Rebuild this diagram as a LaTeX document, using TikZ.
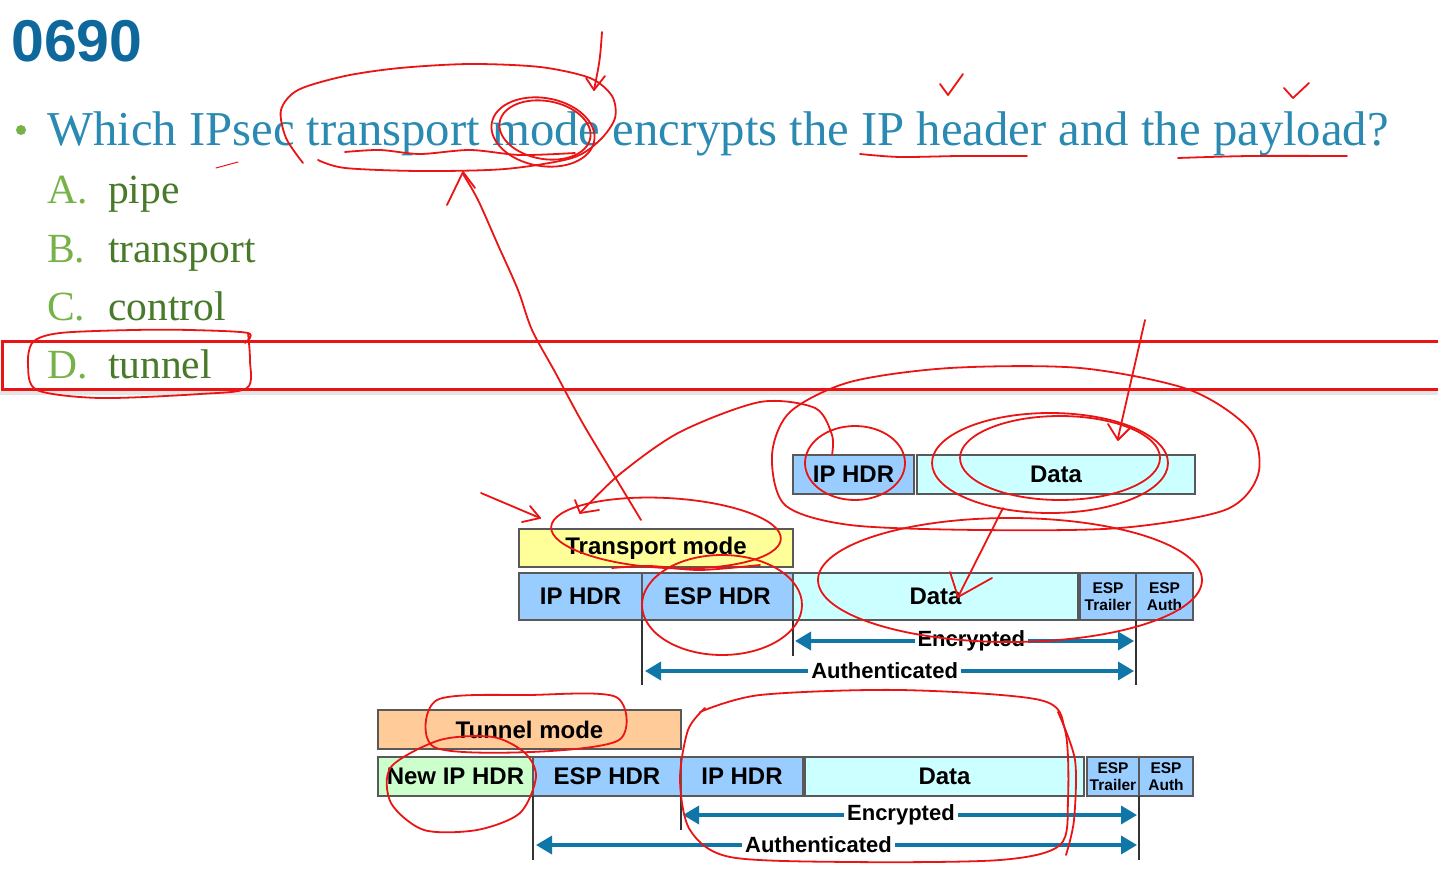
\documentclass[tikz,border=0pt]{standalone}
\usepackage{fontspec}
\setmainfont{Liberation Serif}
\setsansfont{Liberation Sans}
\usetikzlibrary{positioning,arrows.meta}
\definecolor{titleblue}{RGB}{14,104,156}
\definecolor{qblue}{RGB}{42,138,178}
\definecolor{optlight}{RGB}{118,178,72}
\definecolor{optdark}{RGB}{72,122,42}
\definecolor{hdrblue}{RGB}{153,204,255}
\definecolor{datacyan}{RGB}{204,255,255}
\definecolor{modeyellow}{RGB}{255,255,153}
\definecolor{modepeach}{RGB}{255,204,153}
\definecolor{newgreen}{RGB}{204,255,204}
\definecolor{arrowblue}{RGB}{16,118,168}
\definecolor{inkred}{RGB}{235,20,20}

\begin{document}
\begin{tikzpicture}[x=1pt, y=-1pt, node distance=0pt,
  box/.style={draw=black!65, line width=1.4pt, inner sep=0pt, outer sep=0pt, anchor=north west, font=\sffamily\bfseries\fontsize{24}{26}\selectfont},
  small/.style={box, font=\sffamily\bfseries\fontsize{15.5}{17}\selectfont, align=center},
  span/.style={arrowblue, line width=3.5pt, {Triangle[width=18pt,length=16pt]}-{Triangle[width=18pt,length=16pt]}},
  tag/.style={fill=white, text=black, inner sep=3pt, font=\sffamily\bfseries\fontsize{22}{24}\selectfont},
  tick/.style={black!80, line width=1.4pt},
  letter/.style={anchor=base west, inner sep=0pt, text=optlight, font=\fontsize{41.5}{44}\selectfont},
  word/.style={anchor=base west, inner sep=0pt, text=optdark, font=\fontsize{41.5}{44}\selectfont},
  ink/.style={inkred, line width=1.8pt, line cap=round, line join=round}]
\useasboundingbox (0,0) rectangle (1438,875);
\fill[white] (0,0) rectangle (1438,875);

% slide text
\node[anchor=base west, inner sep=0pt, text=titleblue, font=\sffamily\bfseries\fontsize{59}{61}\selectfont] (num) at (11,62) {0690};
\node[circle, fill=optlight, inner sep=0pt, minimum size=10pt] (dot) at (21,130) {};
\node[anchor=base west, inner sep=0pt, text=qblue, font=\fontsize{48.7}{50}\selectfont] (q) at (47,145) {Which IPsec transport mode encrypts the IP header and the payload?};
\foreach \l/\w/\y [count=\i] in {A/pipe/203, B/transport/262, C/control/320, D/tunnel/378} {
  \node[letter] (l\i) at (47,\y) {\l.};
  \node[word] (w\i) at (108,\y) {\w};
}
\draw[black!10, line width=4pt] (0,393) -- (1438,393);
\draw[inkred, line width=3pt] (2,341) rectangle (1450,389);

% original packet
\node[box, fill=hdrblue, minimum width=121pt, minimum height=39pt] (ip0) at (793,455) {IP HDR};
\node[box, fill=datacyan, minimum width=278pt, minimum height=39pt, right=3pt of ip0] (data0) {Data};

% transport mode
\node[box, fill=modeyellow, minimum width=274pt, minimum height=38pt] (tmode) at (519,529) {Transport mode};
\node[box, fill=hdrblue, minimum width=123pt, minimum height=47pt] (ip1) at (519,573) {IP HDR};
\node[box, fill=hdrblue, minimum width=151pt, minimum height=47pt, right=of ip1] (esp1) {ESP HDR};
\node[box, fill=datacyan, minimum width=285pt, minimum height=47pt, right=of esp1] (data1) {Data};
\node[small, fill=hdrblue, minimum width=56pt, minimum height=47pt, right=2pt of data1] (trl1) {ESP\\Trailer};
\node[small, fill=hdrblue, minimum width=57pt, minimum height=47pt, right=of trl1] (auth1) {ESP\\Auth};
\draw[tick] (esp1.south west) -- ++(0,65);
\draw[tick] (data1.south west) -- ++(0,36);
\draw[tick] (auth1.south west) -- ++(0,65);
\draw[span] ([shift={(2pt,-21pt)}]data1.south west) -- node[tag, pos=0.52] {Encrypted} ([shift={(-2pt,-21pt)}]auth1.south west);
\draw[span] ([shift={(3pt,-51pt)}]esp1.south west) -- node[tag, pos=0.49] {Authenticated} ([shift={(-2pt,-51pt)}]auth1.south west);

% tunnel mode
\node[box, fill=modepeach, minimum width=303pt, minimum height=39pt] (umode) at (378,710) {Tunnel mode};
\node[box, fill=newgreen, minimum width=155pt, minimum height=39pt] (new2) at (378,757) {New IP HDR};
\node[box, fill=hdrblue, minimum width=148pt, minimum height=39pt, right=of new2] (esp2) {ESP HDR};
\node[box, fill=hdrblue, minimum width=122pt, minimum height=39pt, right=of esp2] (ip2) {IP HDR};
\node[box, fill=datacyan, minimum width=279pt, minimum height=39pt, right=2pt of ip2] (data2) {Data};
\node[small, fill=hdrblue, minimum width=52pt, minimum height=39pt, right=3pt of data2] (trl2) {ESP\\Trailer};
\node[small, fill=hdrblue, minimum width=54pt, minimum height=39pt, right=of trl2] (auth2) {ESP\\Auth};
\draw[tick] (esp2.south west) -- ++(0,64);
\draw[tick] (ip2.south west) -- ++(0,34);
\draw[tick] (auth2.south west) -- ++(0,64);
\draw[span] ([shift={(2pt,-19pt)}]ip2.south west) -- node[tag, pos=0.48] {Encrypted} ([shift={(-2pt,-19pt)}]auth2.south west);
\draw[span] ([shift={(3pt,-49pt)}]esp2.south west) -- node[tag, pos=0.47] {Authenticated} ([shift={(-2pt,-49pt)}]auth2.south west);

% red pen marks
\draw[ink] plot[smooth] coordinates {(303,163) (286,138) (281,110) (298,90) (345,76) (400,68) (470,64) (540,67) (590,78) (612,96) (615,118) (600,140) (572,158) (505,169) (420,171) (345,168) (318,160)};
\draw[ink, rotate around={-10:(543,132)}] (543,132) ellipse (52pt and 34pt);
\draw[ink, rotate around={-10:(545,130)}] (545,130) ellipse (46pt and 29pt);
\draw[ink] (602,32) .. controls (600,60) .. (594,90);
\draw[ink] (586,78) -- (594,90) -- (605,76);
\draw[ink] plot[smooth] coordinates {(345,152) (380,150) (420,154) (470,150) (520,155) (575,153)};
\draw[ink, line width=1pt] (216,168) -- (238,162);
\draw[ink] plot[smooth] coordinates {(860,154) (900,157) (960,156) (1027,156)};
\draw[ink] (940,84) -- (948,95) -- (963,74);
\draw[ink] plot[smooth] coordinates {(1178,158) (1250,156) (1347,156)};
\draw[ink] (1284,88) -- (1293,98) -- (1309,83);
\draw[ink] plot[smooth] coordinates {(641,520) (612,472) (582,422) (555,372) (532,330) (518,290) (498,245) (478,200) (463,174)};
\draw[ink] (447,205) -- (463,172) -- (475,188);
\draw[ink] plot[smooth] coordinates {(245,343) (248,333) (190,330) (133,330) (60,333) (33,342) (28,365) (37,390) (100,398) (200,394) (247,388) (250,360) (248,333)};

\draw[ink] (855,463) ellipse (50pt and 37pt);
\draw[ink] plot[smooth cycle] coordinates {(772,455) (790,412) (850,382) (950,368) (1080,368) (1190,390) (1250,430) (1258,475) (1225,510) (1120,528) (980,530) (850,525) (785,505)};
\draw[ink] (1050,463) ellipse (118pt and 50pt);
\draw[ink] (1060,458) ellipse (100pt and 42pt);
\draw[ink] (1145,320) -- (1118,438);
\draw[ink] (1108,424) -- (1118,440) -- (1131,427);
\draw[ink] (1003,508) -- (958,597);
\draw[ink] (950,572) -- (958,597) -- (992,578);
\draw[ink] plot[smooth] coordinates {(580,513) (620,474) (680,432) (760,402) (815,408) (832,435) (832,455)};
\draw[ink] (575,500) -- (580,513) -- (599,510);
\draw[ink] (481,493) -- (540,518);
\draw[ink] (530,506) -- (540,518) -- (522,522);
\draw[ink, rotate around={-3:(666,533)}] (666,533) ellipse (115pt and 35pt);
\draw[ink] plot[smooth] coordinates {(612,568) (650,566) (700,570) (760,565)};
\draw[ink] (722,605) ellipse (80pt and 50pt);
\draw[ink] (1010,580) ellipse (192pt and 62pt);
\draw[ink] plot[smooth cycle] coordinates {(437,700) (530,695) (616,697) (619,740) (531,752) (434,747)};
\draw[ink] plot[smooth cycle] coordinates {(525,753) (493,737) (440,740) (391,767) (391,803) (424,830) (477,830) (520,813) (536,777)};
\draw[ink] plot[smooth] coordinates {(700,712) (760,695) (900,690) (1040,700) (1065,730) (1068,800) (1060,845) (1000,860) (850,862) (730,857) (690,830) (680,780) (688,730) (705,708)};
\draw[ink] plot[smooth] coordinates {(1058,712) (1075,760) (1074,820) (1066,855)};
\end{tikzpicture}
\end{document}
